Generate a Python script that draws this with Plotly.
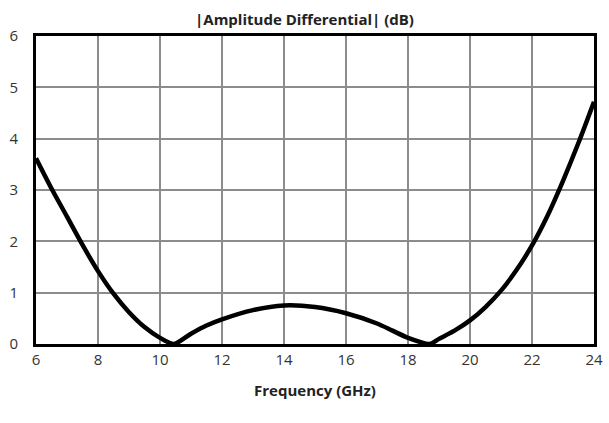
import plotly.graph_objects as go

freq_ghz = [6, 6.5, 7, 7.5, 8, 8.5, 9, 9.5, 10, 10.45, 11, 11.5, 12, 13, 14, 15, 16, 17, 17.5, 18,
            18.7, 19, 19.5, 20, 20.5, 21, 21.5, 22, 22.5, 23, 23.5, 24]
amp_diff_db = [3.62, 3.03, 2.48, 1.93, 1.42, 0.98, 0.62, 0.33, 0.12, 0.0, 0.2, 0.36, 0.48, 0.66, 0.75, 0.72, 0.6, 0.4, 0.26, 0.12,
               0.0, 0.1, 0.26, 0.46, 0.72, 1.04, 1.44, 1.92, 2.5, 3.18, 3.92, 4.72]

x_ticks = [6, 8, 10, 12, 14, 16, 18, 20, 22, 24]
y_ticks = [0, 1, 2, 3, 4, 5, 6]

fig = go.Figure()
fig.add_trace(go.Scatter(
    x=freq_ghz, y=amp_diff_db, mode="lines",
    line=dict(color="black", width=4.5, shape="spline", smoothing=0.7),
    hoverinfo="skip", showlegend=False, cliponaxis=True,
))

font_family = "Open Sans, Liberation Sans, sans-serif"
fig.update_layout(
    width=609, height=423,
    margin=dict(l=36, r=15, t=36, b=79),
    paper_bgcolor="white", plot_bgcolor="white",
    title=dict(text="<b>|Amplitude Differential| (dB)</b>", x=0.5, xanchor="center",
               y=0.965, yanchor="top", font=dict(family=font_family, size=15, color="#222")),
    font=dict(family=font_family, size=15, color="#333"),
)
fig.update_xaxes(
    range=[6, 24], tickvals=x_ticks, ticktext=[str(v) for v in x_ticks],
    showgrid=True, gridcolor="#8c8c8c", gridwidth=1.5,
    showline=True, linecolor="black", linewidth=3, mirror=True,
    ticks="", ticklen=0, zeroline=False, automargin=False,
    title=dict(text="<b>Frequency (GHz)</b>", font=dict(family=font_family, size=15, color="#222"), standoff=18),
    tickfont=dict(size=15, color="#333"),
)
fig.update_yaxes(
    range=[0, 6], tickvals=y_ticks, ticktext=[str(v) for v in y_ticks],
    showgrid=True, gridcolor="#8c8c8c", gridwidth=1.5,
    showline=True, linecolor="black", linewidth=3, mirror=True,
    ticks="", zeroline=False, automargin=False, ticklabelstandoff=12,
    tickfont=dict(size=15, color="#333"),
)
fig.write_html("out.html", config={"displayModeBar": False},
               post_script="document.body.style.margin='0px';document.body.style.padding='0px';")
